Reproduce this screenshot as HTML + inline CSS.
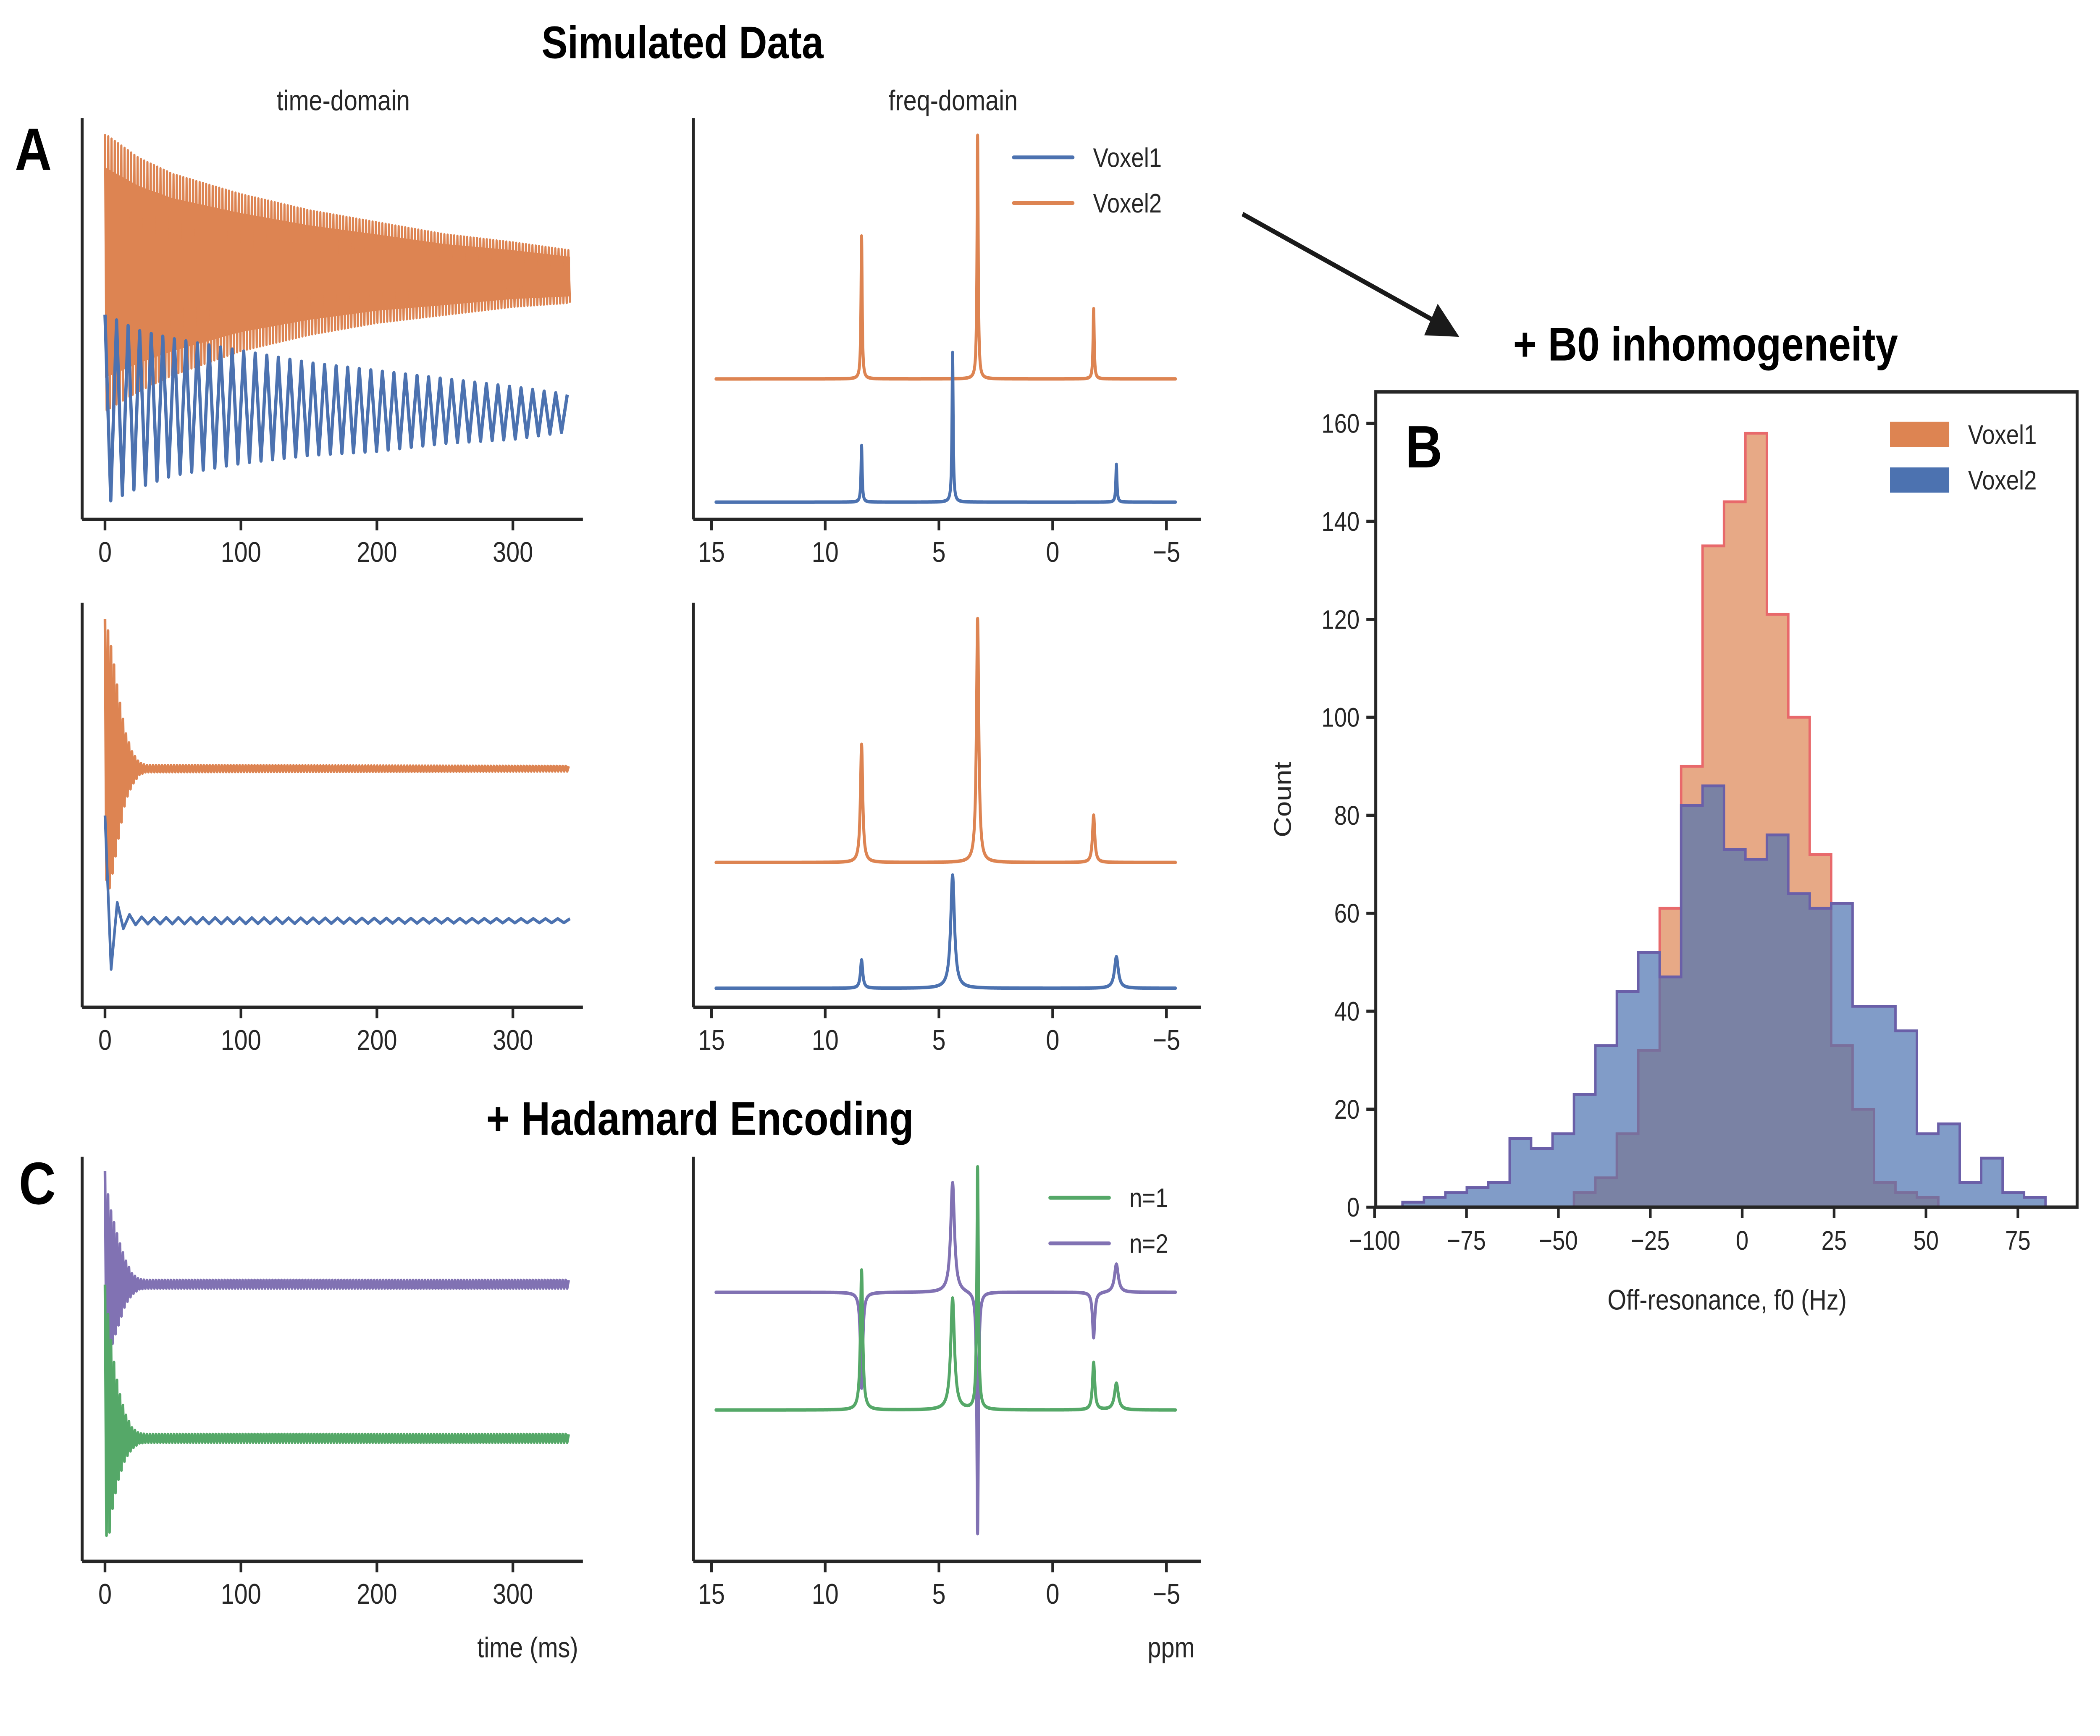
<!DOCTYPE html>
<html><head><meta charset="utf-8">
<style>
html,body{margin:0;padding:0;background:#fff;width:100%;height:100%;overflow:hidden;}
svg{display:block;position:fixed;left:0;top:0;width:100vw;height:100vh;}
text{font-family:"Liberation Sans",Arial,sans-serif;fill:#262626;}
.ttl{font-weight:bold;fill:#000;}
</style></head>
<body>
<svg id="fig" xmlns="http://www.w3.org/2000/svg" viewBox="0 0 1560 1103" preserveAspectRatio="none">
<rect x="0" y="0" width="1560" height="1103" fill="#fff"/>
<text class="ttl" x="507" y="37" font-size="29" text-anchor="middle">Simulated Data</text>
<text x="255" y="70" font-size="18" text-anchor="middle">time-domain</text>
<text x="708" y="70" font-size="18" text-anchor="middle">freq-domain</text>
<text class="ttl" x="11" y="108" font-size="38">A</text>
<text class="ttl" x="14" y="765" font-size="38">C</text>
<text class="ttl" x="1044" y="297" font-size="38">B</text>
<text class="ttl" x="520" y="721" font-size="30" text-anchor="middle">+  Hadamard Encoding</text>
<text class="ttl" x="1267" y="229" font-size="30" text-anchor="middle">+  B0 inhomogeneity</text>
<g>
<line x1="923" y1="136" x2="1068" y2="205" stroke="#1a1a1a" stroke-width="3"/>
<polygon points="1084,214 1058,213 1068,193" fill="#1a1a1a"/>
</g>
<g id="plots"></g>
</svg>
<script>
// ---------- histogram data ----------
const histStart = -92.4;
const histBinWidth = 5.83;
const voxel1Counts = [0,0,0,0,0,0,0,0,3,6,15,32,61,90,135,144,158,121,100,72,33,20,5,3,2,0,0,0,0,0];
const voxel2Counts = [1,2,3,4,5,14,12,15,23,33,44,52,47,82,86,73,71,76,64,61,62,41,41,36,15,17,5,10,3,2];
const histXTicks = [-100,-75,-50,-25,0,25,50,75];
const histYTicks = [0,20,40,60,80,100,120,140,160];

// ---------- time-domain envelopes (panel units 0..100) ----------
const tdTimesA = [0,25,50,100,150,200,250,300,342];
const orangeTopA = [96,90,86,81,77,74,71,69,67];
const orangeBotA = [27,32,36,42,46,49,51,53,54];
const blueTopA = [51,47,45,42,39,37,35,33,31];
const blueBotA = [4,8,11,14,16,17,19,20,22];

const tdTimesB = [0,3,6,10,15,20,25,30,342];
const orangeBaseB = 59;
const orangeUpB = [37,33,27,18,9,4,1.5,0.8,0.6];
const orangeDnB = [26,30,25,17,8,4,1.5,0.8,0.6];
const blueBaseB = 21.4;
const blueUpB = [26,12,6,4,2,1.2,1,0.8,0.5];
const blueDnB = [5,16,8,3,1.5,1,1,0.8,0.5];

const purpleBaseC = 68.5;
const purpleUpC = [28,20,16,11,6,2.5,1.2,1,1];
const purpleDnC = [20,18,14,10,5,2.5,1.2,1,1];
const greenBaseC = 30.4;
const greenUpC = [38,28,20,12,6,2.5,1.2,1,1];
const greenDnC = [24,24,16,10,5,2.5,1.2,1,1];

// ---------- spectra (ppm, amplitude in panel units, half width ppm) ----------
const peakPpm = [8.4, 4.4, 3.3, -1.8, -2.8];
const orangeBase1 = 35, orangeAmp1 = [35.6,0,60.7,17.5,0], width1 = [0.03,0.03,0.03,0.03,0.03];
const blueBase1 = 4.3, blueAmp1 = [14.1,37.3,0,0,9.4];
const orangeBase2 = 35.8, orangeAmp2 = [29.2,0,60.3,11.7,0], width2 = [0.06,0.1,0.06,0.06,0.1];
const blueBase2 = 4.7, blueAmp2 = [7,28,0,0,7.8];
const purpleBase3 = 66.5, purpleAmp3 = [-23.7,27.2,-59.9,-11.3,7];
const greenBase3 = 37.4, greenAmp3 = [34.6,27.6,59.9,11.7,6.6];
const width3 = [0.06,0.1,0.04,0.06,0.1];
const timeTicks = [0,100,200,300];
const ppmTicks = [15,10,5,0,-5];

const C = {blue:'#4C72B0',orange:'#DD8452',green:'#55A868',purple:'#8172B3',ax:'#262626'};
const NS='http://www.w3.org/2000/svg';
const root=document.getElementById('plots');
function mk(tag,attrs,parent){const e=document.createElementNS(NS,tag);for(const k in attrs)e.setAttribute(k,attrs[k]);(parent||root).appendChild(e);return e;}
function interp(xs,ys,x){if(x<=xs[0])return ys[0];for(let i=1;i<xs.length;i++){if(x<=xs[i]){const f=(x-xs[i-1])/(xs[i]-xs[i-1]);return ys[i-1]+f*(ys[i]-ys[i-1]);}}return ys[ys.length-1];}

const rows=[{top:75,bot:330},{top:383,bot:640},{top:735,bot:992}];
const tdX0=61,tdX1=433, fdX0=515,fdX1=892;
const tScale=t=>78+t*1.01;
const pScale=p=>782-p*16.9;

function axes(x0,x1,top,bot,ticks,sc,name){
  const g=mk('g',{});
  
  
  mk('line',{x1:x0,y1:top,x2:x0,y2:bot,stroke:C.ax,'stroke-width':2.2},g);
  mk('line',{x1:x0,y1:bot,x2:x1,y2:bot,stroke:C.ax,'stroke-width':2.2},g);
  ticks.forEach(v=>{const x=sc(v);
    mk('line',{x1:x,y1:bot,x2:x,y2:bot+7,stroke:C.ax,'stroke-width':2},g);
    const t=mk('text',{x:x,y:bot+27,'font-size':18,'text-anchor':'middle'},g);
    
    
    t.textContent=String(v).replace('-','\u2212');});
  return g;
}
rows.forEach((r,i)=>{axes(tdX0,tdX1,r.top,r.bot,timeTicks,tScale,'time-axes-row'+(i+1));axes(fdX0,fdX1,r.top,r.bot,ppmTicks,pScale,'freq-axes-row'+(i+1));});

function yv(r,v){return r.bot-v*(r.bot-r.top)/100;}

function zig(r,times,topArr,botArr,period,color,sw,name,fill){
  let pts=[];let k=0;
  for(let t=0;t<=342;t+=period/2){const v=(k%2===0)?interp(times,topArr,t):interp(times,botArr,t);pts.push(tScale(t).toFixed(2)+','+yv(r,v).toFixed(2));k++;}
  if(fill){
    const up=[],dn=[];for(let t=0;t<=342;t+=2){const a=interp(times,topArr,t),b=interp(times,botArr,t);up.push(tScale(t)+','+yv(r,a-(a-b)*0.12));dn.unshift(tScale(t)+','+yv(r,b+(a-b)*0.12));}
    const f=mk('polygon',{points:up.concat(dn).join(' '),fill:color});
    
    
  }
  const p=mk('polyline',{points:pts.join(' '),fill:'none',stroke:color,'stroke-width':sw,'stroke-linejoin':'round'});
  
  
}
function decay(r,base,up,dn,period,color,name){
  const top=up.map(u=>base+u),bot=dn.map(d=>base-d);
  zig(r,tdTimesB,top,bot,period,color,2,name,false);
}
zig(rows[0],tdTimesA,orangeTopA,orangeBotA,2.4,C.orange,1.6,'voxel2-time-signal',true);
zig(rows[0],tdTimesA,blueTopA,blueBotA,8.5,C.blue,2.4,'voxel1-time-signal',false);
decay(rows[1],orangeBaseB,orangeUpB,orangeDnB,2.2,C.orange,'voxel2-time-signal-b0');
decay(rows[1],blueBaseB,blueUpB,blueDnB,9,C.blue,'voxel1-time-signal-b0');
decay(rows[2],purpleBaseC,purpleUpC,purpleDnC,2.2,C.purple,'n2-time-signal');
decay(rows[2],greenBaseC,greenUpC,greenDnC,2.2,C.green,'n1-time-signal');

function spec(r,base,amps,widths,color,name){
  const pts=[];
  for(let p=14.8;p>=-5.4;p-=0.005){let v=base;for(let i=0;i<peakPpm.length;i++){const d=(p-peakPpm[i])/widths[i];v+=amps[i]/(1+d*d);}pts.push(pScale(p).toFixed(2)+','+yv(r,v).toFixed(2));}
  const e=mk('polyline',{points:pts.join(' '),fill:'none',stroke:color,'stroke-width':2.2,'stroke-linejoin':'round','stroke-linecap':'round'});
  
  
}
spec(rows[0],orangeBase1,orangeAmp1,width1,C.orange,'voxel2-spectrum');
spec(rows[0],blueBase1,blueAmp1,width1,C.blue,'voxel1-spectrum');
spec(rows[1],orangeBase2,orangeAmp2,width2,C.orange,'voxel2-spectrum-b0');
spec(rows[1],blueBase2,blueAmp2,width2,C.blue,'voxel1-spectrum-b0');
spec(rows[2],purpleBase3,purpleAmp3,width3,C.purple,'n2-spectrum');
spec(rows[2],greenBase3,greenAmp3,width3,C.green,'n1-spectrum');

function lineLegend(x,y,items,name){
  const g=mk('g',{});
  
  
  items.forEach((it,i)=>{const yy=y+i*29;
    mk('line',{x1:x,y1:yy,x2:x+44,y2:yy,stroke:it[1],'stroke-width':2.4,'stroke-linecap':'round'},g);
    const t=mk('text',{x:x+59,y:yy+6,'font-size':17},g);
    
    
    t.textContent=it[0];});
}
lineLegend(753,100,[['Voxel1',C.blue],['Voxel2',C.orange]],'freq-legend');
lineLegend(780,761,[['n=1',C.green],['n=2',C.purple]],'hadamard-legend');

let t=mk('text',{x:392,y:1053,'font-size':18,'text-anchor':'middle'});


t.textContent='time (ms)';
t=mk('text',{x:870,y:1053,'font-size':18,'text-anchor':'middle'});


t.textContent='ppm';

// ---------- histogram ----------
const hx0=1022,hx1=1543,hy0=249,hy1=767;
const hX=v=>1294.2+v*2.731;
const hY=c=>hy1-c*3.1125;
function stepPath(counts){
  let d='';let started=false;
  counts.forEach((c,i)=>{const a=hX(histStart+i*histBinWidth),b=hX(histStart+(i+1)*histBinWidth);
    if(!started){d+='M'+a+','+hY(0)+' ';started=true;}
    d+='L'+a+','+hY(c)+' L'+b+','+hY(c)+' ';});
  d+='L'+hX(histStart+counts.length*histBinWidth)+','+hY(0)+' Z';
  return d;
}
const hg=mk('g',{});


let p1=mk('path',{d:stepPath(voxel1Counts),fill:'rgba(221,132,82,0.7)',stroke:'#E8696B','stroke-width':1.8},hg);


let p2=mk('path',{d:stepPath(voxel2Counts),fill:'rgba(76,114,176,0.7)',stroke:'#6A5FA8','stroke-width':1.8},hg);


mk('rect',{x:hx0,y:hy0,width:hx1-hx0,height:hy1-hy0,fill:'none',stroke:C.ax,'stroke-width':2.2},hg);
histXTicks.forEach(v=>{const x=hX(v);mk('line',{x1:x,y1:hy1,x2:x,y2:hy1+7,stroke:C.ax,'stroke-width':2},hg);
  const tt=mk('text',{x:x,y:hy1+27,'font-size':17,'text-anchor':'middle'},hg);
  
  
  tt.textContent=String(v).replace('-','\u2212');});
histYTicks.forEach(v=>{const y=hY(v);mk('line',{x1:hx0,y1:y,x2:hx0-7,y2:y,stroke:C.ax,'stroke-width':2},hg);
  const tt=mk('text',{x:hx0-12,y:y+6,'font-size':17,'text-anchor':'end'},hg);
  
  
  tt.textContent=v;});
t=mk('text',{x:1283,y:832,'font-size':18,'text-anchor':'middle'},hg);


t.textContent='Off-resonance, f0 (Hz)';
t=mk('text',{x:959,y:508,'font-size':18,'text-anchor':'middle',transform:'rotate(-90 959 508)'},hg);


t.textContent='Count';
[['Voxel1','rgba(221,132,82,1)',268],['Voxel2','rgba(76,114,176,1)',297]].forEach(it=>{
  const r=mk('rect',{x:1404,y:it[2],width:44,height:16,fill:it[1]},hg);
  
  
  const tx=mk('text',{x:1462,y:it[2]+14,'font-size':17},hg);
  
  
  tx.textContent=it[0];});
</script>
</body></html>
